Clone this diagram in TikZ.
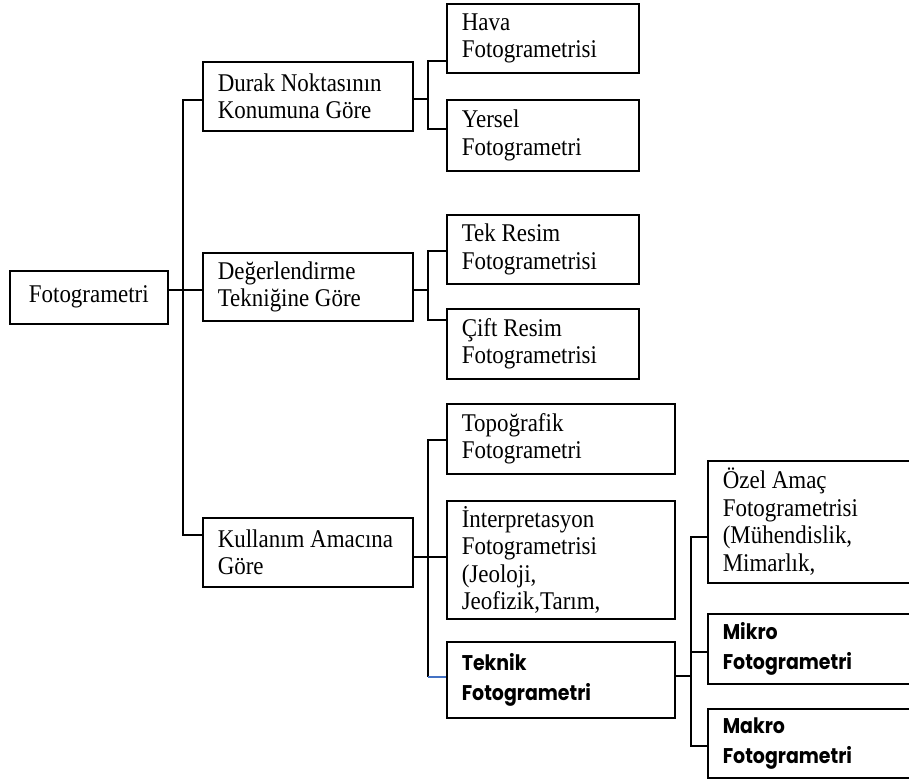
\documentclass[tikz,border=0pt]{standalone}
\usepackage{fontspec}
\setmainfont{Liberation Serif}[FakeStretch=0.9]
\newfontfamily\gothic{Poppins}[FakeStretch=0.89]
\begin{document}
\begin{tikzpicture}[x=1pt, y=-1pt,
  every node/.style={font=\fontsize{25.5}{27.5}\selectfont},
  kutu/.style={draw, line width=1.6pt, anchor=north west, align=flush left, inner xsep=15pt, inner ysep=0pt},
  gkutu/.style={kutu, font=\gothic\bfseries\fontsize{21.3}{30}\selectfont},
  bag/.style={line width=1.3pt}]
  \useasboundingbox (0,0) rectangle (909,780);

  \node[kutu, align=flush center, text width=128pt, minimum height=53pt] (root) at (9,270) {Fotogrametri};

  \node[kutu, text width=180pt, minimum height=69pt] (dur) at (202,61) {Durak~Noktasının\\Konumuna~Göre};
  \node[kutu, text width=180pt, minimum height=68pt] (deg) at (202,252) {Değerlendirme\\Tekniğine~Göre};
  \node[kutu, text width=180pt, minimum height=69pt] (kul) at (202,517) {Kullanım~Amacına\\Göre};

  \node[kutu, text width=162pt, minimum height=69pt] (hava) at (446,3) {Hava\\Fotogrametrisi};
  \node[kutu, text width=162pt, minimum height=71pt] (yer) at (446,99) {Yersel\\Fotogrametri};
  \node[kutu, text width=162pt, minimum height=69pt] (tek) at (446,214) {Tek~Resim\\Fotogrametrisi};
  \node[kutu, text width=162pt, minimum height=70pt] (cift) at (446,308) {Çift~Resim\\Fotogrametrisi};

  \node[kutu, text width=198pt, minimum height=70pt] (topo) at (446,403) {Topoğrafik\\Fotogrametri};
  \node[kutu, text width=198pt, minimum height=118pt] (intp) at (446,500) {İnterpretasyon\\Fotogrametrisi\\(Jeoloji,\\Jeofizik,Tarım,};
  \node[gkutu, text width=198pt, minimum height=76pt] (tekn) at (446,641) {Teknik\\Fotogrametri};

  \node[kutu, text width=173pt, minimum height=122pt] (ozel) at (707,460) {Özel~Amaç\\Fotogrametrisi\\(Mühendislik,\\Mimarlık,};
  \node[gkutu, text width=173pt, minimum height=70pt] (mikro) at (707,613) {Mikro\\Fotogrametri};
  \node[gkutu, text width=173pt, minimum height=69pt] (makro) at (707,708) {Makro\\Fotogrametri};

  \coordinate (t0) at (183,290);
  \coordinate (t1) at (183,100);
  \coordinate (t2) at (183,535);
  \draw[bag] (root.east |- t0) -- (deg.west |- t0);
  \draw[bag] (dur.west |- t1) -- (t1) -- (t2) -- (kul.west |- t2);

  \coordinate (d0) at (428,99);
  \coordinate (d1) at (428,61);
  \coordinate (d2) at (428,129);
  \draw[bag] (dur.east |- d0) -- (d0);
  \draw[bag] (hava.west |- d1) -- (d1) -- (d2) -- (yer.west |- d2);

  \coordinate (e0) at (428,290);
  \coordinate (e1) at (428,251);
  \coordinate (e2) at (428,320);
  \draw[bag] (deg.east |- e0) -- (e0);
  \draw[bag] (tek.west |- e1) -- (e1) -- (e2) -- (cift.west |- e2);

  \coordinate (k0) at (428,557);
  \coordinate (k1) at (428,440);
  \coordinate (k2) at (428,677);
  \draw[bag] (kul.east |- k0) -- (intp.west |- k0);
  \draw[bag] (topo.west |- k1) -- (k1) -- (k2);
  \draw[bag, color={rgb,255:red,68;green,114;blue,196}] (k2) -- (tekn.west |- k2);

  \coordinate (m0) at (691,676);
  \coordinate (m1) at (691,537);
  \coordinate (m2) at (691,652);
  \coordinate (m3) at (691,746);
  \draw[bag] (tekn.east |- m0) -- (m0);
  \draw[bag] (ozel.west |- m1) -- (m1) -- (m3) -- (makro.west |- m3);
  \draw[bag] (m2) -- (mikro.west |- m2);
\end{tikzpicture}
\end{document}
